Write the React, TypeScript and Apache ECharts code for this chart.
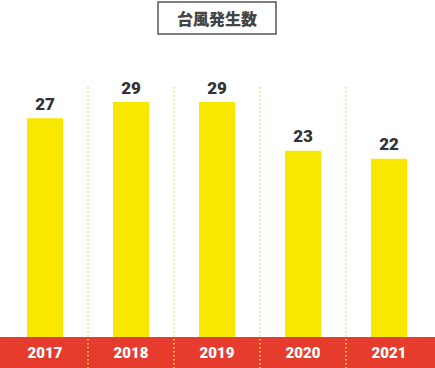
import React, { useEffect, useRef } from "react";
import * as echarts from "echarts";

const categories = ["2017", "2018", "2019", "2020", "2021"];
const typhoonCounts = [27, 29, 29, 23, 22];
const titleText = "台風発生数";

export default function App() {
  const ref = useRef<HTMLDivElement>(null);
  useEffect(() => {
    document.body.style.margin = "0";
    const chart = echarts.init(ref.current!, null, { renderer: "svg" });
    chart.setOption({
      animation: false,
      grid: [
        { left: 2, right: 3, top: 13, bottom: 31 },
        { left: 2, right: 3, top: 87, bottom: 0 },
      ],
      xAxis: [
        {
          type: "category",
          gridIndex: 0,
          data: categories,
          axisLine: { show: false },
          axisTick: { show: false },
          axisLabel: {
            color: "#ffffff",
            fontFamily: "Roboto",
            fontWeight: 900,
            fontSize: 15,
            margin: 8,
          },
          z: 5,
        },
        {
          type: "category",
          gridIndex: 1,
          data: categories,
          axisLine: { show: false },
          axisTick: { show: false },
          axisLabel: { show: false },
          splitLine: {
            show: true,
            showMinLine: false,
            showMaxLine: false,
            lineStyle: { color: "#f5e030", width: 1.5, type: [1.5, 2.5] },
          },
          z: 10,
        },
      ],
      yAxis: [
        { type: "value", gridIndex: 0, min: 0, max: 40, show: false },
        { type: "value", gridIndex: 1, min: 0, max: 1, show: false },
      ],
      graphic: [
        {
          type: "rect",
          left: 0,
          bottom: 0,
          shape: { width: 435, height: 31 },
          style: { fill: "#e63c2d" },
          z: 1,
        },
        {
          type: "rect",
          shape: { x: 158, y: 2, width: 118, height: 32 },
          style: { fill: "#ffffff", stroke: "#555555", lineWidth: 1.5 },
          z: 1,
        },
        {
          type: "text",
          x: 217,
          y: 18,
          style: {
            text: titleText,
            fill: "#444444",
            font: "900 16px 'Noto Sans CJK JP'",
            textAlign: "center",
            textVerticalAlign: "middle",
          },
          z: 2,
        },
      ],
      series: [
        {
          type: "bar",
          xAxisIndex: 0,
          yAxisIndex: 0,
          data: typhoonCounts,
          barWidth: 36,
          itemStyle: { color: "#f8e800" },
          label: {
            show: true,
            position: "top",
            distance: 6,
            color: "#333333",
            fontFamily: "Roboto",
            fontWeight: 900,
            fontSize: 17,
          },
          z: 2,
        },
      ],
    });
    return () => chart.dispose();
  }, []);
  return <div ref={ref} style={{ width: 435, height: 368 }} />;
}
